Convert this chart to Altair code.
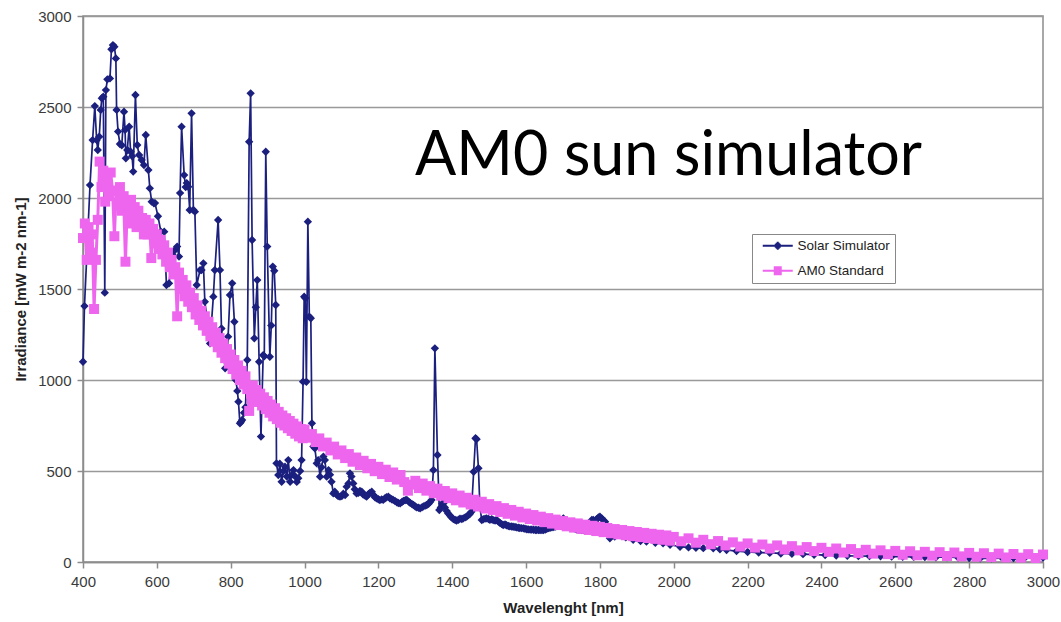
import altair as alt
import pandas as pd

# Solar simulator spectrum (wavelength nm, irradiance mW m-2 nm-1)
sim_wl = [
    400, 404, 419, 426, 432, 437, 440, 444, 448, 451, 455, 459, 462, 466, 473, 477, 481, 485, 489, 491,
    495, 500, 505, 511, 514, 516, 520, 525, 529, 533, 536, 542, 547, 552, 559, 565, 570, 577, 581, 586,
    592, 595, 603, 611, 620, 626, 633, 642, 649, 655, 660, 663, 667, 674, 678, 681, 685, 689, 694, 699,
    703, 708, 717, 721, 726, 730, 737, 744, 753, 757, 766, 771, 775, 780, 785, 789, 793, 798, 804, 810,
    814, 818, 821, 825, 828, 831, 836, 840, 845, 850, 854, 858, 864, 868, 872, 877, 882, 888, 891, 895,
    899, 906, 910, 914, 918, 922, 924, 929, 933, 938, 943, 947, 952, 956, 961, 966, 970, 975, 979, 983,
    988, 992, 996, 999, 1002, 1005, 1009, 1013, 1017, 1020, 1024, 1028, 1033, 1037, 1042, 1046, 1051, 1055, 1060, 1065,
    1069, 1073, 1078, 1082, 1087, 1091, 1096, 1101, 1105, 1110, 1114, 1119, 1123, 1127, 1132, 1136, 1141, 1146, 1150, 1155,
    1159, 1164, 1168, 1173, 1177, 1182, 1186, 1191, 1195, 1200, 1204, 1209, 1213, 1218, 1222, 1227, 1231, 1236, 1240, 1245,
    1250, 1254, 1259, 1264, 1268, 1273, 1277, 1282, 1286, 1291, 1295, 1300, 1304, 1309, 1313, 1318, 1322, 1327, 1331, 1336,
    1340, 1344, 1349, 1353, 1360, 1365, 1369, 1373, 1376, 1380, 1385, 1389, 1394, 1398, 1403, 1408, 1412, 1417, 1421, 1426,
    1430, 1435, 1439, 1444, 1448, 1452, 1458, 1463, 1466, 1471, 1475, 1480, 1484, 1489, 1493, 1498, 1502, 1507, 1511, 1516,
    1520, 1525, 1529, 1534, 1538, 1543, 1547, 1552, 1556, 1561, 1565, 1570, 1574, 1579, 1583, 1588, 1593, 1597, 1602, 1606,
    1611, 1615, 1620, 1625, 1629, 1634, 1638, 1643, 1647, 1652, 1656, 1661, 1665, 1670, 1675, 1680, 1685, 1690, 1695, 1701,
    1706, 1710, 1715, 1719, 1724, 1728, 1733, 1737, 1742, 1746, 1751, 1755, 1760, 1764, 1769, 1773, 1778, 1782, 1787, 1791,
    1796, 1800, 1805, 1809, 1814, 1818, 1822, 1827, 1840, 1854, 1870, 1890, 1910, 1926, 1950, 1971, 1990, 2017, 2040, 2060,
    2080, 2107, 2125, 2143, 2170, 2200, 2230, 2260, 2290, 2320, 2350, 2380, 2410, 2440, 2470, 2500, 2530, 2560, 2590, 2620,
    2650, 2680, 2710, 2740, 2770, 2800, 2830, 2860, 2890, 2920, 2950, 2980, 3000,
]
sim_val = [
    1100, 1406, 2071, 2318, 2505, 2318, 2264, 2337, 2484, 2548, 2557, 1480, 2593, 2652, 2657, 2817, 2840, 2831, 2767, 2484,
    2365, 2297, 2290, 2474, 2374, 2218, 2264, 2392, 2254, 2230, 2145, 2566, 2291, 2236, 2209, 2181, 2346, 2154, 2053, 1980,
    1971, 1972, 1900, 1815, 1815, 1522, 1531, 1690, 1714, 1733, 1678, 2027, 2392, 2126, 2060, 2082, 2062, 1934, 2465, 1934,
    1925, 1522, 1604, 1604, 1641, 1430, 1320, 1201, 1458, 1604, 1879, 1604, 1283, 1160, 1064, 1100, 1238, 1467, 1531, 1320,
    1000, 940, 881, 762, 770, 780, 820, 850, 1110, 2309, 2575, 1769, 1229, 1400, 1549, 1100, 689, 1137, 1130, 2254,
    1733, 1128, 1300, 1623, 1600, 1412, 542, 478, 540, 441, 500, 524, 470, 560, 441, 480, 505, 470, 440, 460,
    500, 560, 991, 1458, 1450, 990, 1870, 1348, 1339, 762, 634, 625, 542, 560, 469, 520, 579, 560, 469, 505,
    480, 441, 377, 386, 370, 362, 359, 362, 375, 368, 414, 432, 487, 470, 432, 400, 377, 380, 390, 386,
    370, 365, 359, 372, 380, 386, 370, 355, 350, 345, 340, 344, 341, 350, 356, 359, 350, 345, 341, 335,
    328, 324, 322, 330, 336, 340, 341, 332, 325, 318, 313, 305, 300, 298, 295, 300, 306, 310, 313, 320,
    330, 341, 505, 1174, 588, 286, 300, 320, 322, 300, 280, 267, 255, 245, 236, 231, 228, 232, 238, 236,
    240, 245, 249, 258, 265, 276, 496, 680, 675, 515, 300, 231, 235, 238, 240, 236, 232, 235, 230, 228,
    231, 222, 215, 208, 203, 206, 202, 198, 196, 195, 194, 192, 190, 188, 187, 186, 185, 183, 180, 179,
    178, 178, 177, 176, 176, 176, 175, 176, 176, 178, 182, 186, 188, 190, 192, 195, 200, 215, 230, 240,
    228, 210, 198, 194, 190, 186, 183, 180, 178, 177, 176, 176, 178, 182, 190, 215, 231, 231, 225, 235,
    245, 249, 240, 230, 221, 200, 160, 130, 140, 148, 135, 122, 115, 112, 106, 103, 95, 84, 80, 78,
    76, 75, 70, 66, 60, 55, 52, 50, 47, 45, 43, 40, 38, 36, 34, 33, 32, 31, 30, 29,
    28, 27, 26, 26, 25, 22, 20, 20, 21, 22, 22, 23, 24,
]

# AM0 reference spectrum
am0_wl = (
    list(range(400, 1000, 5))
    + list(range(1000, 2000, 10))
    + list(range(2000, 3001, 20))
)
am0_val = [
    # 400-595
    1780, 1860, 1660, 1840, 1700, 1800, 1390, 1660, 1880, 2200, 2060, 2150, 1980, 2130, 2010, 2140, 2040, 1790, 2040, 1960,
    2060, 1930, 2010, 1650, 1960, 1860, 1990, 1880, 1950, 1840, 1930, 1850, 1890, 1800, 1880, 1800, 1860, 1670, 1830, 1750,
    # 600-795
    1800, 1720, 1770, 1690, 1740, 1650, 1700, 1620, 1660, 1580, 1620, 1350, 1590, 1500, 1550, 1460, 1520, 1430, 1480, 1400,
    1450, 1360, 1410, 1330, 1380, 1300, 1350, 1270, 1320, 1240, 1290, 1210, 1260, 1180, 1230, 1150, 1200, 1120, 1170, 1090,
    # 800-995
    1140, 1060, 1110, 1030, 1080, 1000, 1050, 975, 1020, 950, 830, 925, 970, 880, 945, 880, 925, 860, 905, 840,
    885, 820, 865, 800, 845, 785, 825, 765, 805, 750, 790, 735, 775, 720, 760, 705, 745, 690, 730, 680,
    # 1000-1490
    728, 683, 703, 659, 679, 635, 656, 613, 634, 591, 613, 571, 593, 551, 574, 533, 556, 515, 539, 499,
    523, 483, 507, 467, 492, 453, 478, 439, 392, 425, 446, 406, 431, 392, 417, 378, 403, 364, 390, 351,
    377, 339, 365, 327, 353, 316, 342, 305, 331, 294,
    # 1500-1990
    318, 286, 307, 275, 296, 265, 286, 255, 276, 245, 266, 236, 258, 228, 249, 219, 241, 211, 233, 203,
    225, 196, 218, 189, 212, 182, 205, 176, 199, 170, 193, 164, 187, 158, 181, 152, 176, 147, 170, 142,
    165, 137, 160, 132, 155, 127, 150, 122, 146, 117,
    # 2000-3000
    138, 114, 130, 106, 122, 98, 115, 91, 108, 85, 102, 79, 96, 74, 91, 69, 87, 64, 82, 60,
    78, 56, 74, 52, 71, 49, 67, 46, 64, 43, 61, 40, 59, 37, 56, 35, 54, 33, 52, 31,
    50, 29, 48, 27, 46, 25, 44, 24, 43, 22, 41,
]

series_names = ["Solar Simulator", "AM0 Standard"]
NAVY = "#1b1f7e"
PINK = "#ee66ee"

sim = pd.DataFrame({"wl": sim_wl, "val": sim_val, "series": series_names[0]})
am0 = pd.DataFrame({"wl": am0_wl, "val": am0_val, "series": series_names[1]})
df = pd.concat([sim, am0], ignore_index=True)

# legend glyphs (stroked): a line segment with a solid diamond / square drawn on it
KEY_DIAMOND = (
    "M-3,0H3M-0.8,0H0.8M-0.6,-0.2H0.6M-0.6,0.2H0.6M-0.4,-0.4H0.4M-0.4,0.4H0.4"
    "M-0.2,-0.6H0.2M-0.2,0.6H0.2"
)
KEY_SQUARE = "M-3,0H3M-0.8,-0.7H0.8M-0.8,-0.35H0.8M-0.8,0.35H0.8M-0.8,0.7H0.8"

legend = alt.Legend(
    title=None,
    orient="none",
    legendX=669,
    legendY=218,
    direction="vertical",
    fillColor="white",
    strokeColor="#888888",
    padding=5,
    labelFont="Liberation Sans",
    labelFontSize=13.5,
    labelColor="#222222",
    labelOffset=13,
    symbolSize=100,
    symbolOffset=14,
    symbolStrokeWidth=1.8,
    symbolOpacity=1,
    rowPadding=10,
)

color_scale = alt.Scale(domain=series_names, range=[NAVY, PINK])

x = alt.X(
    "wl:Q",
    scale=alt.Scale(domain=[400, 3000], nice=False, zero=False),
    axis=alt.Axis(
        title="Wavelenght [nm]",
        values=list(range(400, 3001, 200)),
        format="d",
        grid=False,
        labelFlush=False,
        tickSize=6,
        labelPadding=6,
        titlePadding=11,
    ),
)
y = alt.Y(
    "val:Q",
    scale=alt.Scale(domain=[0, 3000], nice=False),
    axis=alt.Axis(
        title="Irradiance [mW m-2 nm-1]",
        values=list(range(0, 3001, 500)),
        format="d",
        grid=True,
        labelFlush=False,
        tickSize=6,
        labelPadding=6,
        titlePadding=9,
    ),
)

base = alt.Chart(df)
sim_base = base.transform_filter(alt.datum.series == series_names[0])
am0_base = base.transform_filter(alt.datum.series == series_names[1])

sim_line = sim_base.mark_line(strokeWidth=1.7, color=NAVY).encode(x=x, y=y)
sim_pts = sim_base.mark_point(shape="diamond", filled=True, size=70, opacity=1, color=NAVY).encode(x=x, y=y)
am0_line = am0_base.mark_line(strokeWidth=3, color=PINK).encode(x=x, y=y)
am0_pts = am0_base.mark_point(shape="square", filled=True, size=100, opacity=1, color=PINK).encode(x=x, y=y)

# key layer: one point per series parked below the clipped plot area; it only feeds the legend
key = (
    base.transform_filter(alt.datum.wl == 3000)
    .transform_calculate(park="-1000")
    .mark_point(filled=False, opacity=1, clip=True)
    .encode(
        x=x,
        y=alt.Y("park:Q"),
        color=alt.Color("series:N", scale=color_scale, legend=legend),
        shape=alt.Shape(
            "series:N",
            scale=alt.Scale(domain=series_names, range=[KEY_DIAMOND, KEY_SQUARE]),
            legend=legend,
        ),
    )
)

chart = (
    alt.layer(sim_line, sim_pts, am0_line, am0_pts, key)
    .properties(
        width=960,
        height=546,
        autosize=alt.AutoSizeParams(type="none"),
        padding={"left": 83, "top": 16, "right": 18, "bottom": 60},
        title=alt.TitleParams(
            "AM0 sun simulator",
            font="Lato",
            fontSize=61,
            fontWeight="normal",
            color="#000000",
            anchor="start",
            frame="group",
            baseline="alphabetic",
            offset=0,
            dx=332,
            dy=227,
        ),
    )
    .configure_view(stroke="#8c8c8c", strokeWidth=1.5)
    .configure_axis(
        domainColor="#8c8c8c",
        domainWidth=1.5,
        tickColor="#8c8c8c",
        tickWidth=1.5,
        gridColor="#999999",
        gridWidth=1.6,
        labelFont="Liberation Sans",
        labelFontSize=15,
        labelColor="#3a3a3a",
        titleFont="Liberation Sans",
        titleFontSize=15,
        titleFontWeight="bold",
        titleColor="#222222",
    )
)

chart.save("out.html", embed_options={"renderer": "svg", "actions": False})
